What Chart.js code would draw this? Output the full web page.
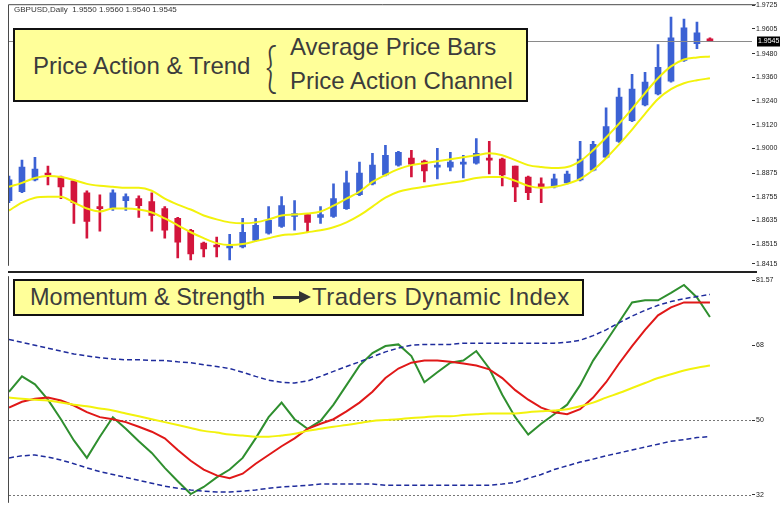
<!DOCTYPE html>
<html>
<head>
<meta charset="utf-8">
<script src="https://cdn.jsdelivr.net/npm/chart.js@4.4.1/dist/chart.umd.min.js"></script>
<style>
    body { margin: 0; background: #fff; }
    #wrap { position: relative; width: 780px; height: 508px; overflow: hidden; background: #fff; font-family: "Liberation Sans", Arial, sans-serif; }
    canvas { position: absolute; left: 0; }
    #priceChart { top: 0; }
    #tdiChart { top: 271px; }
    .note { position: absolute; white-space: nowrap; color: #3c3c3c; font-size: 24px; line-height: 24px; }
    .box { position: absolute; background: #ffff99; border: 2px solid #111; box-sizing: border-box; }
    #title { position: absolute; left: 14px; top: 5px; font-size: 8px; color: #333; white-space: nowrap; }
</style>
</head>
<body>
<div id="wrap">
    <canvas id="priceChart" width="780" height="271"></canvas>
    <canvas id="tdiChart" width="780" height="237"></canvas>

    <div id="title">GBPUSD,Daily&nbsp; 1.9550 1.9560 1.9540 1.9545</div>

    <div class="box" style="left:13px;top:28px;width:515px;height:74px;"></div>
    <div class="note" style="left:33px;top:54px;">Price Action &amp; Trend</div>
    <div class="note" style="left:267px;top:52px;font:300 28px/28px Lato, 'Liberation Sans', Arial;transform:scale(1.5,1.95);transform-origin:50% 50%;">{</div>
    <div class="note" style="left:290px;top:35px;">Average Price Bars</div>
    <div class="note" style="left:290px;top:69px;">Price Action Channel</div>

    <div class="box" style="left:13px;top:279px;width:571px;height:37px;"></div>
    <div class="note" style="left:30px;top:285px;font-size:23.5px;">Momentum &amp; Strength</div>
    <div style="position:absolute;left:273px;top:296px;width:29px;height:3px;background:#333;"></div>
    <div style="position:absolute;left:299px;top:291px;width:0;height:0;border-left:12px solid #333;border-top:6.5px solid transparent;border-bottom:6.5px solid transparent;"></div>
    <div class="note" style="left:312px;top:285px;letter-spacing:0.5px;">Traders Dynamic Index</div>
</div>

<script>
// daily candles, oldest first
var candleOpen = [1.8735, 1.8780, 1.8840, 1.8875, 1.8855, 1.8835, 1.8775, 1.8705, 1.8695, 1.8735,
    1.8745, 1.8730, 1.8695, 1.8645, 1.8585, 1.8520, 1.8510, 1.8495, 1.8500, 1.8535,
    1.8570, 1.8605, 1.8655, 1.8665, 1.8650, 1.8655, 1.8695, 1.8765, 1.8820, 1.8865,
    1.8915, 1.8950, 1.8935, 1.8905, 1.8905, 1.8920, 1.8925, 1.8950, 1.8945, 1.8910,
    1.8855, 1.8820, 1.8805, 1.8825, 1.8840, 1.8890, 1.8955, 1.9035, 1.9140, 1.9220,
    1.9275, 1.9340, 1.9445, 1.9530, 1.9550];
var candleHigh = [1.8860, 1.8940, 1.8955, 1.8910, 1.8860, 1.8840, 1.8785, 1.8765, 1.8790, 1.8770,
    1.8760, 1.8775, 1.8705, 1.8650, 1.8590, 1.8525, 1.8550, 1.8565, 1.8645, 1.8645,
    1.8705, 1.8755, 1.8735, 1.8670, 1.8705, 1.8820, 1.8885, 1.8930, 1.8975, 1.9015,
    1.8985, 1.8990, 1.8940, 1.9000, 1.8980, 1.8965, 1.9050, 1.9035, 1.8950, 1.8910,
    1.8860, 1.8850, 1.8870, 1.8885, 1.9035, 1.9035, 1.9205, 1.9305, 1.9375, 1.9385,
    1.9525, 1.9665, 1.9655, 1.9640, 1.9560];
var candleLow = [1.8725, 1.8775, 1.8835, 1.8815, 1.8745, 1.8620, 1.8545, 1.8580, 1.8685, 1.8685,
    1.8650, 1.8580, 1.8545, 1.8445, 1.8435, 1.8450, 1.8450, 1.8435, 1.8495, 1.8530,
    1.8565, 1.8600, 1.8585, 1.8575, 1.8620, 1.8650, 1.8690, 1.8760, 1.8815, 1.8860,
    1.8910, 1.8855, 1.8830, 1.8845, 1.8885, 1.8850, 1.8920, 1.8870, 1.8810, 1.8730,
    1.8740, 1.8725, 1.8800, 1.8820, 1.8835, 1.8885, 1.8950, 1.9030, 1.9135, 1.9215,
    1.9270, 1.9335, 1.9440, 1.9505, 1.9540];
var candleClose = [1.8840, 1.8905, 1.8895, 1.8865, 1.8805, 1.8725, 1.8630, 1.8695, 1.8775, 1.8755,
    1.8710, 1.8660, 1.8585, 1.8525, 1.8465, 1.8490, 1.8500, 1.8505, 1.8575, 1.8610,
    1.8635, 1.8710, 1.8670, 1.8625, 1.8665, 1.8745, 1.8825, 1.8875, 1.8915, 1.8965,
    1.8980, 1.8920, 1.8885, 1.8915, 1.8930, 1.8930, 1.8975, 1.8940, 1.8865, 1.8805,
    1.8775, 1.8805, 1.8845, 1.8870, 1.8945, 1.9020, 1.9110, 1.9260, 1.9300, 1.9335,
    1.9410, 1.9560, 1.9610, 1.9585, 1.9545];

// price action channel
var channelUpper = [1.8805, 1.8825, 1.8850, 1.8860, 1.8855, 1.8840, 1.8820, 1.8810, 1.8805, 1.8800,
    1.8800, 1.8785, 1.8745, 1.8715, 1.8690, 1.8660, 1.8640, 1.8625, 1.8620, 1.8625,
    1.8640, 1.8660, 1.8665, 1.8670, 1.8680, 1.8710, 1.8745, 1.8780, 1.8830, 1.8865,
    1.8895, 1.8915, 1.8925, 1.8935, 1.8945, 1.8955, 1.8965, 1.8975, 1.8965, 1.8940,
    1.8915, 1.8905, 1.8900, 1.8905, 1.8935, 1.8990, 1.9055, 1.9125, 1.9200, 1.9280,
    1.9355, 1.9415, 1.9450, 1.9460, 1.9465];
var channelLower = [1.8685, 1.8725, 1.8750, 1.8755, 1.8755, 1.8725, 1.8695, 1.8680, 1.8695, 1.8695,
    1.8690, 1.8675, 1.8645, 1.8610, 1.8575, 1.8545, 1.8520, 1.8510, 1.8515, 1.8530,
    1.8545, 1.8560, 1.8565, 1.8575, 1.8585, 1.8600, 1.8625, 1.8660, 1.8705, 1.8750,
    1.8780, 1.8795, 1.8805, 1.8815, 1.8825, 1.8835, 1.8850, 1.8855, 1.8855, 1.8835,
    1.8810, 1.8800, 1.8805, 1.8820, 1.8845, 1.8890, 1.8950, 1.9020, 1.9095, 1.9175,
    1.9250, 1.9300, 1.9330, 1.9345, 1.9355];

// traders dynamic index
var tdiPrice = [56.8, 60.5, 58.6, 54.9, 50.2, 45.1, 40.9, 46.0, 50.7, 47.9,
    44.9, 42.1, 38.5, 35.3, 32.2, 33.9, 36.2, 38.1, 40.9, 45.6,
    50.7, 54.2, 50.2, 47.9, 49.8, 53.7, 58.4, 63.1, 66.1, 67.8,
    68.2, 65.4, 59.1, 61.5, 63.8, 64.3, 66.6, 62.4, 56.1, 50.7,
    46.5, 49.1, 51.4, 53.7, 58.4, 64.3, 68.9, 73.6, 78.3, 78.8,
    78.8, 80.6, 82.5, 79.5, 74.8];
var tdiSignal = [53.0, 54.4, 55.1, 55.4, 54.7, 53.5, 51.9, 50.7, 50.2, 49.5,
    48.4, 47.2, 45.6, 42.8, 40.2, 38.1, 36.7, 36.0, 37.1, 39.5,
    41.6, 43.7, 45.6, 47.9, 49.1, 50.2, 52.1, 54.2, 56.8, 60.1,
    62.4, 63.8, 64.3, 64.3, 64.0, 63.6, 63.1, 62.2, 60.1, 57.2,
    54.9, 53.0, 51.9, 51.4, 52.6, 55.4, 59.1, 63.6, 67.8, 71.7,
    75.2, 77.1, 78.3, 78.3, 78.3];
var tdiBase = [55.4, 55.1, 54.9, 54.7, 54.2, 53.7, 53.3, 52.8, 52.3, 51.6,
    50.9, 50.2, 49.5, 48.8, 48.1, 47.4, 47.0, 46.5, 46.3, 46.0,
    46.0, 46.3, 46.7, 47.4, 47.9, 48.4, 48.8, 49.3, 49.8, 50.0,
    50.2, 50.5, 50.7, 50.9, 50.9, 51.2, 51.4, 51.6, 51.6, 51.6,
    51.9, 52.1, 52.3, 52.6, 53.3, 54.2, 55.4, 56.5, 57.7, 58.9,
    60.1, 61.0, 61.9, 62.6, 63.1];
var tdiUpper = [69.4, 68.7, 68.0, 67.3, 66.6, 65.9, 65.4, 65.0, 64.7, 64.5,
    64.5, 64.3, 64.3, 64.0, 63.8, 63.3, 62.9, 62.4, 61.5, 60.5,
    59.6, 59.1, 58.9, 59.4, 60.5, 61.7, 62.9, 64.0, 65.2, 66.4,
    67.3, 68.0, 68.2, 68.2, 68.2, 68.5, 68.5, 68.5, 68.5, 68.5,
    68.5, 68.5, 68.5, 68.7, 69.2, 70.3, 71.7, 73.4, 75.0, 76.4,
    77.6, 78.5, 79.2, 79.7, 80.2];
var tdiLower = [40.9, 41.4, 41.6, 41.1, 40.4, 39.5, 38.5, 37.6, 36.9, 36.2,
    35.5, 34.8, 34.1, 33.6, 33.2, 32.9, 32.7, 32.7, 32.9, 33.2,
    33.6, 33.9, 34.1, 34.3, 34.6, 34.6, 34.6, 34.6, 34.6, 34.3,
    34.3, 34.3, 34.3, 34.3, 34.3, 34.3, 34.3, 34.3, 34.6, 35.0,
    36.0, 36.9, 38.1, 39.0, 39.9, 40.6, 41.4, 42.1, 42.8, 43.5,
    44.2, 44.9, 45.3, 45.8, 46.0];

// axes
var priceTicks = [1.9725, 1.9605, 1.9480, 1.9360, 1.9240, 1.9120, 1.9000, 1.8875, 1.8755, 1.8635, 1.8515, 1.8415];
var tdiTicks = [32, 50, 68, 83.6];
var tdiTickLabels = ['32', '50', '68', '81.57'];
var tdiLevels = [50, 32];

var BULL = '#3c62d4';
var BEAR = '#d3153c';
var X_MAX = 57.24;

function toPoints(values) {
    return values.map(function(v, i) {
        return { x: i, y: v };
    });
}

var wickData = candleHigh.map(function(h, i) {
    return { x: i, y: [candleLow[i], h] };
});
var bodyData = candleOpen.map(function(o, i) {
    return { x: i, y: [o, candleClose[i]] };
});
var candleColors = candleOpen.map(function(o, i) {
    return candleClose[i] >= o ? BULL : BEAR;
});
var lastClose = candleClose[candleClose.length - 1];

var xAxis = {
    type: 'linear',
    min: 0,
    max: X_MAX,
    offset: false,
    display: false
};

var pricePlugin = {
    id: 'priceFrame',
    afterDraw: function(chart) {
        var ctx = chart.ctx;
        var area = chart.chartArea;
        var y = Math.round(chart.scales.y.getPixelForValue(lastClose)) + 0.5;
        ctx.save();
        // current price line
        ctx.strokeStyle = '#8a8a8a';
        ctx.lineWidth = 1;
        ctx.beginPath();
        ctx.moveTo(area.left, y);
        ctx.lineTo(area.right, y);
        ctx.stroke();
        ctx.fillStyle = '#000';
        ctx.fillRect(area.right + 5, y - 5, 28, 10);
        ctx.fillStyle = '#fff';
        ctx.font = '7px "Liberation Sans", Arial';
        ctx.textBaseline = 'middle';
        ctx.fillText(lastClose.toFixed(4), area.right + 6, y);
        // frame
        ctx.strokeStyle = '#4a4a4a';
        ctx.beginPath();
        ctx.moveTo(area.left - 0.5, area.bottom);
        ctx.lineTo(area.left - 0.5, area.top - 0.5);
        ctx.lineTo(area.right + 4, area.top - 0.5);
        ctx.stroke();
        ctx.restore();
    }
};

var tdiPlugin = {
    id: 'tdiFrame',
    beforeDatasetsDraw: function(chart) {
        var ctx = chart.ctx;
        var area = chart.chartArea;
        ctx.save();
        ctx.strokeStyle = '#777';
        ctx.lineWidth = 1;
        ctx.setLineDash([2, 2]);
        tdiLevels.forEach(function(level) {
            var y = Math.round(chart.scales.y.getPixelForValue(level)) + 0.5;
            ctx.beginPath();
            ctx.moveTo(area.left, y);
            ctx.lineTo(area.right, y);
            ctx.stroke();
        });
        ctx.restore();
    },
    afterDraw: function(chart) {
        var ctx = chart.ctx;
        var area = chart.chartArea;
        ctx.save();
        ctx.strokeStyle = '#4a4a4a';
        ctx.lineWidth = 1;
        ctx.beginPath();
        ctx.moveTo(area.left - 0.5, area.top);
        ctx.lineTo(area.left - 0.5, area.bottom);
        ctx.stroke();
        ctx.strokeStyle = '#222';
        ctx.lineWidth = 2;
        ctx.beginPath();
        ctx.moveTo(area.left - 1, 1);
        ctx.lineTo(area.right + 5, 1);
        ctx.stroke();
        ctx.restore();
    }
};

function rightAxis(min, max, ticks, labels) {
    return {
        position: 'right',
        min: min,
        max: max,
        afterFit: function(scale) {
            scale.width = 28;
        },
        afterBuildTicks: function(scale) {
            scale.ticks = ticks.map(function(v) {
                return { value: v };
            });
        },
        grid: {
            drawOnChartArea: false,
            drawTicks: true,
            tickLength: 3,
            tickColor: '#333'
        },
        border: { display: false },
        ticks: {
            autoSkip: false,
            padding: 1,
            color: '#222',
            font: { family: 'Liberation Sans', size: 7 },
            callback: function(value) {
                var i = ticks.indexOf(value);
                return labels ? labels[i] : value.toFixed(4);
            }
        }
    };
}

new Chart(document.getElementById('priceChart'), {
    type: 'bar',
    data: {
        datasets: [{
            type: 'line',
            data: toPoints(channelUpper),
            borderColor: '#f2f20c',
            borderWidth: 2,
            pointRadius: 0,
            cubicInterpolationMode: 'monotone',
            order: 0
        }, {
            type: 'line',
            data: toPoints(channelLower),
            borderColor: '#f2f20c',
            borderWidth: 2,
            pointRadius: 0,
            cubicInterpolationMode: 'monotone',
            order: 0
        }, {
            data: bodyData,
            backgroundColor: candleColors,
            barThickness: 6,
            grouped: false,
            minBarLength: 2,
            order: 1
        }, {
            data: wickData,
            backgroundColor: candleColors,
            barThickness: 2,
            grouped: false,
            order: 2
        }]
    },
    options: {
        responsive: false,
        animation: false,
        layout: { padding: { left: 9, top: 5, bottom: 2, right: 0 } },
        plugins: { legend: { display: false }, tooltip: { enabled: false } },
        scales: {
            x: xAxis,
            y: rightAxis(1.975 - 5 / 2000, 1.975 - 269 / 2000, priceTicks, null)
        }
    },
    plugins: [pricePlugin]
});

new Chart(document.getElementById('tdiChart'), {
    type: 'line',
    data: {
        datasets: [{
            data: toPoints(tdiUpper),
            borderColor: '#1f2c9c',
            borderWidth: 1.5,
            borderDash: [5, 3],
            pointRadius: 0
        }, {
            data: toPoints(tdiLower),
            borderColor: '#1f2c9c',
            borderWidth: 1.5,
            borderDash: [5, 3],
            pointRadius: 0
        }, {
            data: toPoints(tdiBase),
            borderColor: '#f2f20c',
            borderWidth: 2,
            pointRadius: 0,
            cubicInterpolationMode: 'monotone'
        }, {
            data: toPoints(tdiSignal),
            borderColor: '#e01818',
            borderWidth: 2,
            pointRadius: 0
        }, {
            data: toPoints(tdiPrice),
            borderColor: '#2f8f2f',
            borderWidth: 2,
            pointRadius: 0
        }]
    },
    options: {
        responsive: false,
        animation: false,
        layout: { padding: { left: 9, top: 2, bottom: 2, right: 0 } },
        plugins: { legend: { display: false }, tooltip: { enabled: false } },
        scales: {
            x: xAxis,
            y: rightAxis(30.1, 84.6, tdiTicks, tdiTickLabels)
        }
    },
    plugins: [tdiPlugin]
});
</script>
</body>
</html>
